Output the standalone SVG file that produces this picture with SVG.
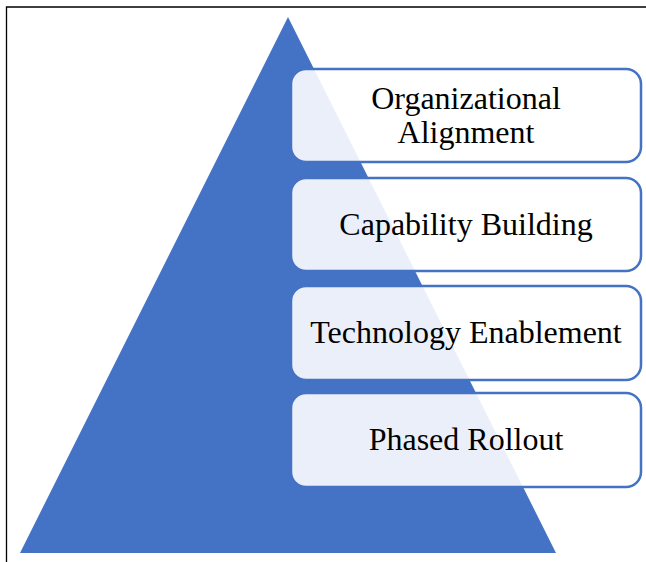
<svg xmlns="http://www.w3.org/2000/svg" width="646" height="562" viewBox="0 0 646 562">
  <style>
    .box { fill: #ffffff; fill-opacity: 0.89; stroke: #4472C4; stroke-width: 2.5; }
    .lbl { font-family: "Liberation Serif", "Times New Roman", serif; font-size: 32px; fill: #000000; text-anchor: middle; }
  </style>
  <rect x="0" y="0" width="646" height="562" fill="#ffffff"/>
  <path d="M6.5,562 V7 H646" fill="none" stroke="#000000" stroke-width="1.3"/>
  <g id="pyramid">
    <polygon points="288,17 556,553 20,553" fill="#4472C4"/>
  </g>
  <g id="connectors"></g>
  <g id="node-organizational-alignment">
    <rect class="box" x="291" y="69" width="350" height="93" rx="15" ry="15"/>
    <text class="lbl" x="466" y="109">Organizational</text>
    <text class="lbl" x="466" y="142.5">Alignment</text>
  </g>
  <g id="node-capability-building">
    <rect class="box" x="291" y="178" width="350" height="93" rx="15" ry="15"/>
    <text class="lbl" x="466" y="235">Capability Building</text>
  </g>
  <g id="node-technology-enablement">
    <rect class="box" x="291" y="286" width="350" height="94" rx="15" ry="15"/>
    <text class="lbl" x="466" y="343">Technology Enablement</text>
  </g>
  <g id="node-phased-rollout">
    <rect class="box" x="291" y="393" width="350" height="94" rx="15" ry="15"/>
    <text class="lbl" x="466" y="449.5">Phased Rollout</text>
  </g>
</svg>
